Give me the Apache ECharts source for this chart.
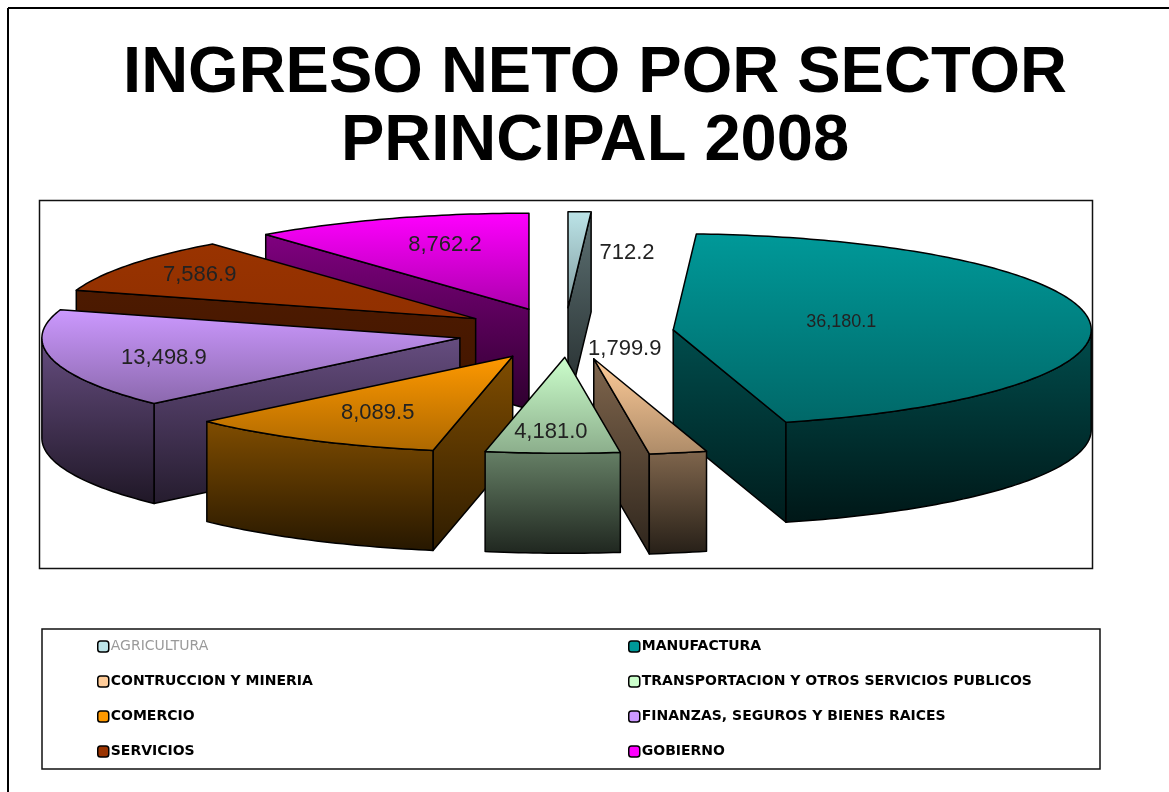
<!DOCTYPE html>
<html>
<head>
<meta charset="utf-8">
<title>Ingreso neto por sector principal 2008</title>
<style>
    html, body { margin: 0; padding: 0; background: #fff; }
    #main { width: 1169px; height: 792px; }
</style>
</head>
<body>
<div id="main"></div>
<script src="https://cdn.jsdelivr.net/npm/echarts@6/dist/echarts.min.js"></script>
<script>
// datos
var sectores = ['AGRICULTURA', 'MANUFACTURA', 'CONTRUCCION Y MINERIA', 'TRANSPORTACION Y OTROS SERVICIOS PUBLICOS',
    'COMERCIO', 'FINANZAS, SEGUROS Y BIENES RAICES', 'SERVICIOS', 'GOBIERNO'];
var ingreso = [712.2, 36180.1, 1799.9, 4181.0, 8089.5, 13498.9, 7586.9, 8762.2];
var colores = ['#bce4e8', '#009999', '#ffcc99', '#ccffcc', '#ff9900', '#cc99ff', '#993300', '#ff00ff'];

// geometria del pastel 3D
var cx = 565, cy = 332.5, rx = 418, ry = 96, alto = 100, explode = 0.258;
// ajuste fino de algunas rebanadas
var ajuste = [[0, 0], [1, 0], [7, 2], [3, 0], [0, 2], [0, 0], [0, 0], [0, 0]];
// desplazamiento de cada etiqueta respecto al vertice de su rebanada
var labelOffset = [[59, -55], [168, -8], [31, -10], [-14, 75], [-135, 57], [-296, 20], [-276, -44], [-84, -64]];
var labelSize = [22, 18, 22, 22, 22, 22, 22, 22];

var total = ingreso.reduce(function (a, b) { return a + b; }, 0);

function rad(g) { return g * Math.PI / 180; }

function punto(ox, oy, g, dy) {
    return [ox + Math.sin(rad(g)) * rx, oy - Math.cos(rad(g)) * ry + (dy || 0)];
}

// oscurece un color
function tono(hex, f) {
    var n = parseInt(hex.slice(1), 16);
    var r = Math.round((n >> 16 & 255) * f), g = Math.round((n >> 8 & 255) * f), b = Math.round((n & 255) * f);
    return 'rgb(' + r + ',' + g + ',' + b + ')';
}

function degradado(hex, f1, f2) {
    return new echarts.graphic.LinearGradient(0, 0, 0, 1, [
        {offset: 0, color: tono(hex, f1)},
        {offset: 1, color: tono(hex, f2)}
    ]);
}

function cara(puntos, fill) {
    return {
        type: 'polygon',
        shape: {points: puntos},
        style: {fill: fill, stroke: '#000', lineWidth: 1.5, lineJoin: 'round'},
        silent: true
    };
}

function formato(v) {
    return v.toLocaleString('en-US', {minimumFractionDigits: 1, maximumFractionDigits: 1});
}

// angulos de cada rebanada a partir de los valores
var inicio = [], fin = [], acum = 0;
ingreso.forEach(function (v) {
    inicio.push(acum);
    acum += v / total * 360;
    fin.push(acum);
});

function rebanada(i) {
    return function (params, api) {
        var a = inicio[i], b = fin[i], mid = (a + b) / 2;
        var v = api.value(0);
        var color = colores[i];
        // servicios casi no tiene degradado
        var plano = i === 6;
        var corte = plano ? degradado(color, 0.5, 0.42) : degradado(color, 0.5, 0.18);
        // vertice desplazado hacia afuera
        var ox = cx + Math.sin(rad(mid)) * rx * explode + ajuste[i][0];
        var oy = cy - Math.cos(rad(mid)) * ry * explode + ajuste[i][1];
        var hijos = [];
        var p1 = punto(ox, oy, a), p2 = punto(ox, oy, b);

        // caras de corte que miran al frente
        if (Math.sin(rad(a)) < -0.001) {
            hijos.push(cara([[ox, oy], p1, [p1[0], p1[1] + alto], [ox, oy + alto]], corte));
        }
        if (Math.sin(rad(b)) > 0.001) {
            hijos.push(cara([[ox, oy], p2, [p2[0], p2[1] + alto], [ox, oy + alto]], corte));
        }

        // pared exterior, solo la mitad delantera
        var d0 = Math.max(a, 90), d1 = Math.min(b, 270);
        if (d1 > d0) {
            var arriba = [], abajo = [];
            for (var g = d0; g < d1; g += 1) {
                arriba.push(punto(ox, oy, g));
                abajo.unshift(punto(ox, oy, g, alto));
            }
            arriba.push(punto(ox, oy, d1));
            abajo.unshift(punto(ox, oy, d1, alto));
            hijos.push(cara(arriba.concat(abajo), degradado(color, 0.5, 0.15)));
        }

        // cara superior
        var tapa = [[ox, oy]];
        for (var t = a; t < b; t += 1) {
            tapa.push(punto(ox, oy, t));
        }
        tapa.push(p2);
        hijos.push(cara(tapa, degradado(color, 1, plano ? 0.95 : 0.68)));

        hijos.push({
            type: 'text',
            silent: true,
            style: {
                x: ox + labelOffset[i][0],
                y: oy + labelOffset[i][1],
                text: formato(v),
                fill: '#222',
                font: labelSize[i] + 'px "Liberation Sans"',
                align: 'center',
                verticalAlign: 'middle'
            }
        });
        return {type: 'group', children: hijos};
    };
}

// se pinta de atras hacia adelante
var series = sectores.map(function (nombre, i) {
    var mid = (inicio[i] + fin[i]) / 2;
    return {
        type: 'custom',
        name: nombre,
        coordinateSystem: 'none',
        z: 10 - Math.cos(rad(mid)) * 5,
        animation: false,
        itemStyle: {color: colores[i]},
        data: [[ingreso[i]]],
        renderItem: rebanada(i)
    };
});

function leyenda(indices, left) {
    return {
        orient: 'vertical',
        left: left,
        top: 634,
        itemWidth: 11,
        itemHeight: 11,
        itemGap: 20,
        selectedMode: false,
        icon: 'roundRect',
        itemStyle: {borderColor: '#000', borderWidth: 1.5},
        textStyle: {fontFamily: 'DejaVu Sans', fontSize: 14, fontWeight: 'bold', color: '#000', padding: [0, 0, 0, -3], lineHeight: 15},
        data: indices.map(function (i) {
            return i === 0
                ? {name: sectores[i], textStyle: {color: '#9a9a9a', fontWeight: 'normal'}}
                : {name: sectores[i]};
        })
    };
}

function marco(x, y, w, h) {
    return {type: 'rect', shape: {x: x, y: y, width: w, height: h}, style: {fill: '#fff', stroke: '#111', lineWidth: 1.5}, silent: true};
}

var myechart = echarts.init(document.getElementById('main'));
var option = {
    backgroundColor: '#fff',
    animation: false,
    title: {
        text: 'INGRESO NETO POR SECTOR\nPRINCIPAL 2008',
        left: 590,
        top: 35,
        textAlign: 'center',
        textStyle: {fontFamily: 'Liberation Sans', fontWeight: 'bold', fontSize: 65, lineHeight: 68, color: '#000'}
    },
    legend: [leyenda([0, 2, 4, 6], 92), leyenda([1, 3, 5, 7], 623)],
    graphic: [
        {type: 'line', shape: {x1: 8, y1: 8, x2: 1169, y2: 8}, style: {stroke: '#000', lineWidth: 2}, silent: true},
        {type: 'line', shape: {x1: 8, y1: 8, x2: 8, y2: 792}, style: {stroke: '#000', lineWidth: 2}, silent: true},
        marco(39.5, 200.5, 1053, 368),
        marco(42, 629, 1058, 140)
    ],
    series: series
};
myechart.setOption(option);
</script>
</body>
</html>
